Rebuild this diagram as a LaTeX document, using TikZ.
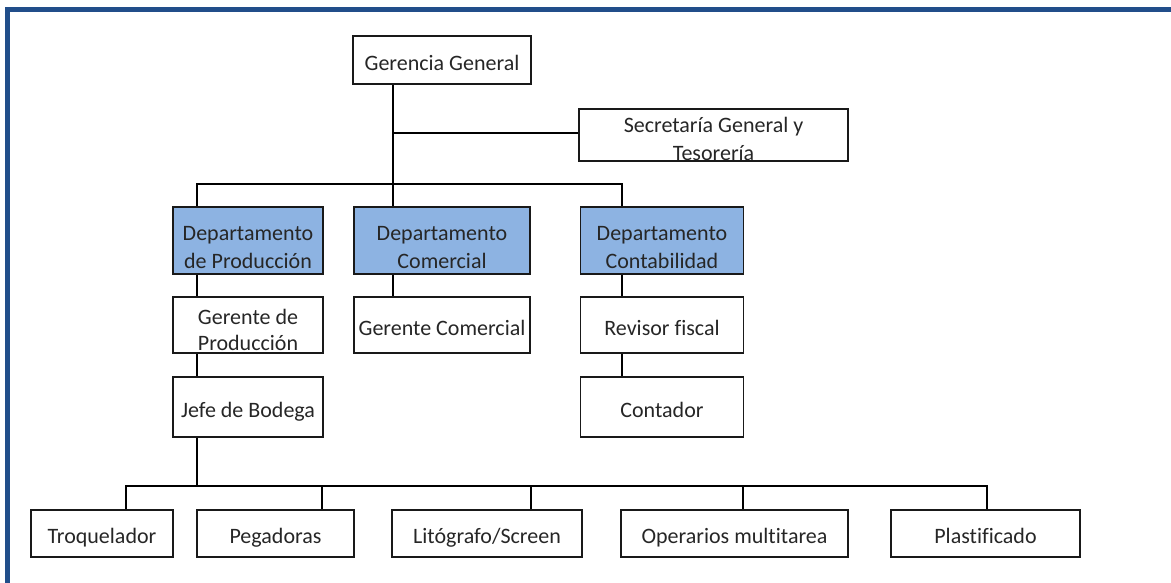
\documentclass[tikz,border=0pt]{standalone}
\usepackage{fontspec}
\setmainfont{Carlito}[Ligatures=CommonOff]
\definecolor{framecol}{RGB}{33,78,138}
\definecolor{deptfill}{RGB}{141,179,226}
\begin{document}
\begin{tikzpicture}[x=1pt,y=-1pt,
  txt/.style={align=center, inner sep=0pt, text=black!85, font=\fontsize{22}{26}\selectfont},
  box/.style={draw=black!90, line width=1.8pt, inner sep=0pt,
    label={[txt, yshift=-5pt]center:#1\strut}},
  boxml/.style={draw=black!90, line width=1.8pt, inner sep=0pt,
    label={[txt, yshift=-5pt]center:#1}},
  dept/.style={draw=black!90, line width=1.8pt, inner sep=0pt, fill=deptfill,
    label={[txt, font=\fontsize{22}{28}\selectfont, yshift=-7pt]center:#1}},
  conn/.style={draw=black, line width=1.6pt},
  frameline/.style={draw=framecol, line width=5pt}]
\useasboundingbox (0,0) rectangle (1171,583);
\draw[frameline] (7.5,583) -- (7.5,9.5) -- (1171,9.5);

% top
\node[box={Gerencia General}, minimum width=178, minimum height=48] (gg) at (442,60) {};
\node[draw=black!90, line width=1.8pt, minimum width=269, minimum height=52] (sec) at (713.5,135) {};
\node[txt, font=\fontsize{22}{28}\selectfont] (sect) at (713.5,139) {Secretaría General y\\Tesorería};

% departments
\node[dept={Departamento\\de Producción}, minimum width=150, minimum height=67] (dp) at (248,240.5) {};
\node[dept={Departamento\\Comercial}, minimum width=176, minimum height=67] (dc) at (442,240.5) {};
\node[dept={Departamento\\Contabilidad}, minimum width=163, minimum height=67] (dk) at (662,240.5) {};

% second level
\node[boxml={Gerente de\\Producción}, minimum width=150, minimum height=56] (gp) at (248,325) {};
\node[box={Gerente Comercial}, minimum width=176, minimum height=56] (gc) at (442,325) {};
\node[box={Revisor fiscal}, minimum width=163, minimum height=56] (rf) at (662,325) {};

% third level
\node[box={Jefe de Bodega}, minimum width=150, minimum height=60] (jb) at (248,407) {};
\node[box={Contador}, minimum width=163, minimum height=60] (ct) at (662,407) {};

% bottom row
\node[box={Troquelador}, minimum width=142, minimum height=47] (tq) at (102,533.5) {};
\node[box={Pegadoras}, minimum width=157, minimum height=47] (pg) at (275.5,533.5) {};
\node[box={Litógrafo/Screen}, minimum width=190, minimum height=47] (lt) at (487,533.5) {};
\node[box={Operarios multitarea}, minimum width=227, minimum height=47] (op) at (734.5,533.5) {};
\node[box={Plastificado}, minimum width=189, minimum height=47] (pl) at (985.5,533.5) {};

% connector coordinates
\coordinate (cA) at (197,184);
\coordinate (cB) at (393,184);
\coordinate (cC) at (622,184);
\coordinate (js) at (393,133);
\coordinate (bus) at (197,486);
\coordinate (d1) at (126,486);
\coordinate (d2) at (322,486);
\coordinate (d3) at (531,486);
\coordinate (d4) at (743,486);
\coordinate (d5) at (987,486);

% connectors
\draw[conn] (gg.south -| cB) -- (cB |- dc.north);
\draw[conn] (js) -- (js -| sec.west);
\draw[conn] (cA |- dp.north) -- (cA) -- (cC) -- (cC |- dk.north);
\draw[conn] (dp.south -| cA) -- (gp.north -| cA);
\draw[conn] (gp.south -| cA) -- (jb.north -| cA);
\draw[conn] (jb.south -| cA) -- (bus);
\draw[conn] (dc.south -| cB) -- (gc.north -| cB);
\draw[conn] (dk.south -| cC) -- (rf.north -| cC);
\draw[conn] (rf.south -| cC) -- (ct.north -| cC);
\draw[conn] (d1 |- tq.north) -- (d1) -- (d5) -- (d5 |- pl.north);
\draw[conn] (d2) -- (d2 |- pg.north);
\draw[conn] (d3) -- (d3 |- lt.north);
\draw[conn] (d4) -- (d4 |- op.north);
\end{tikzpicture}
\end{document}
